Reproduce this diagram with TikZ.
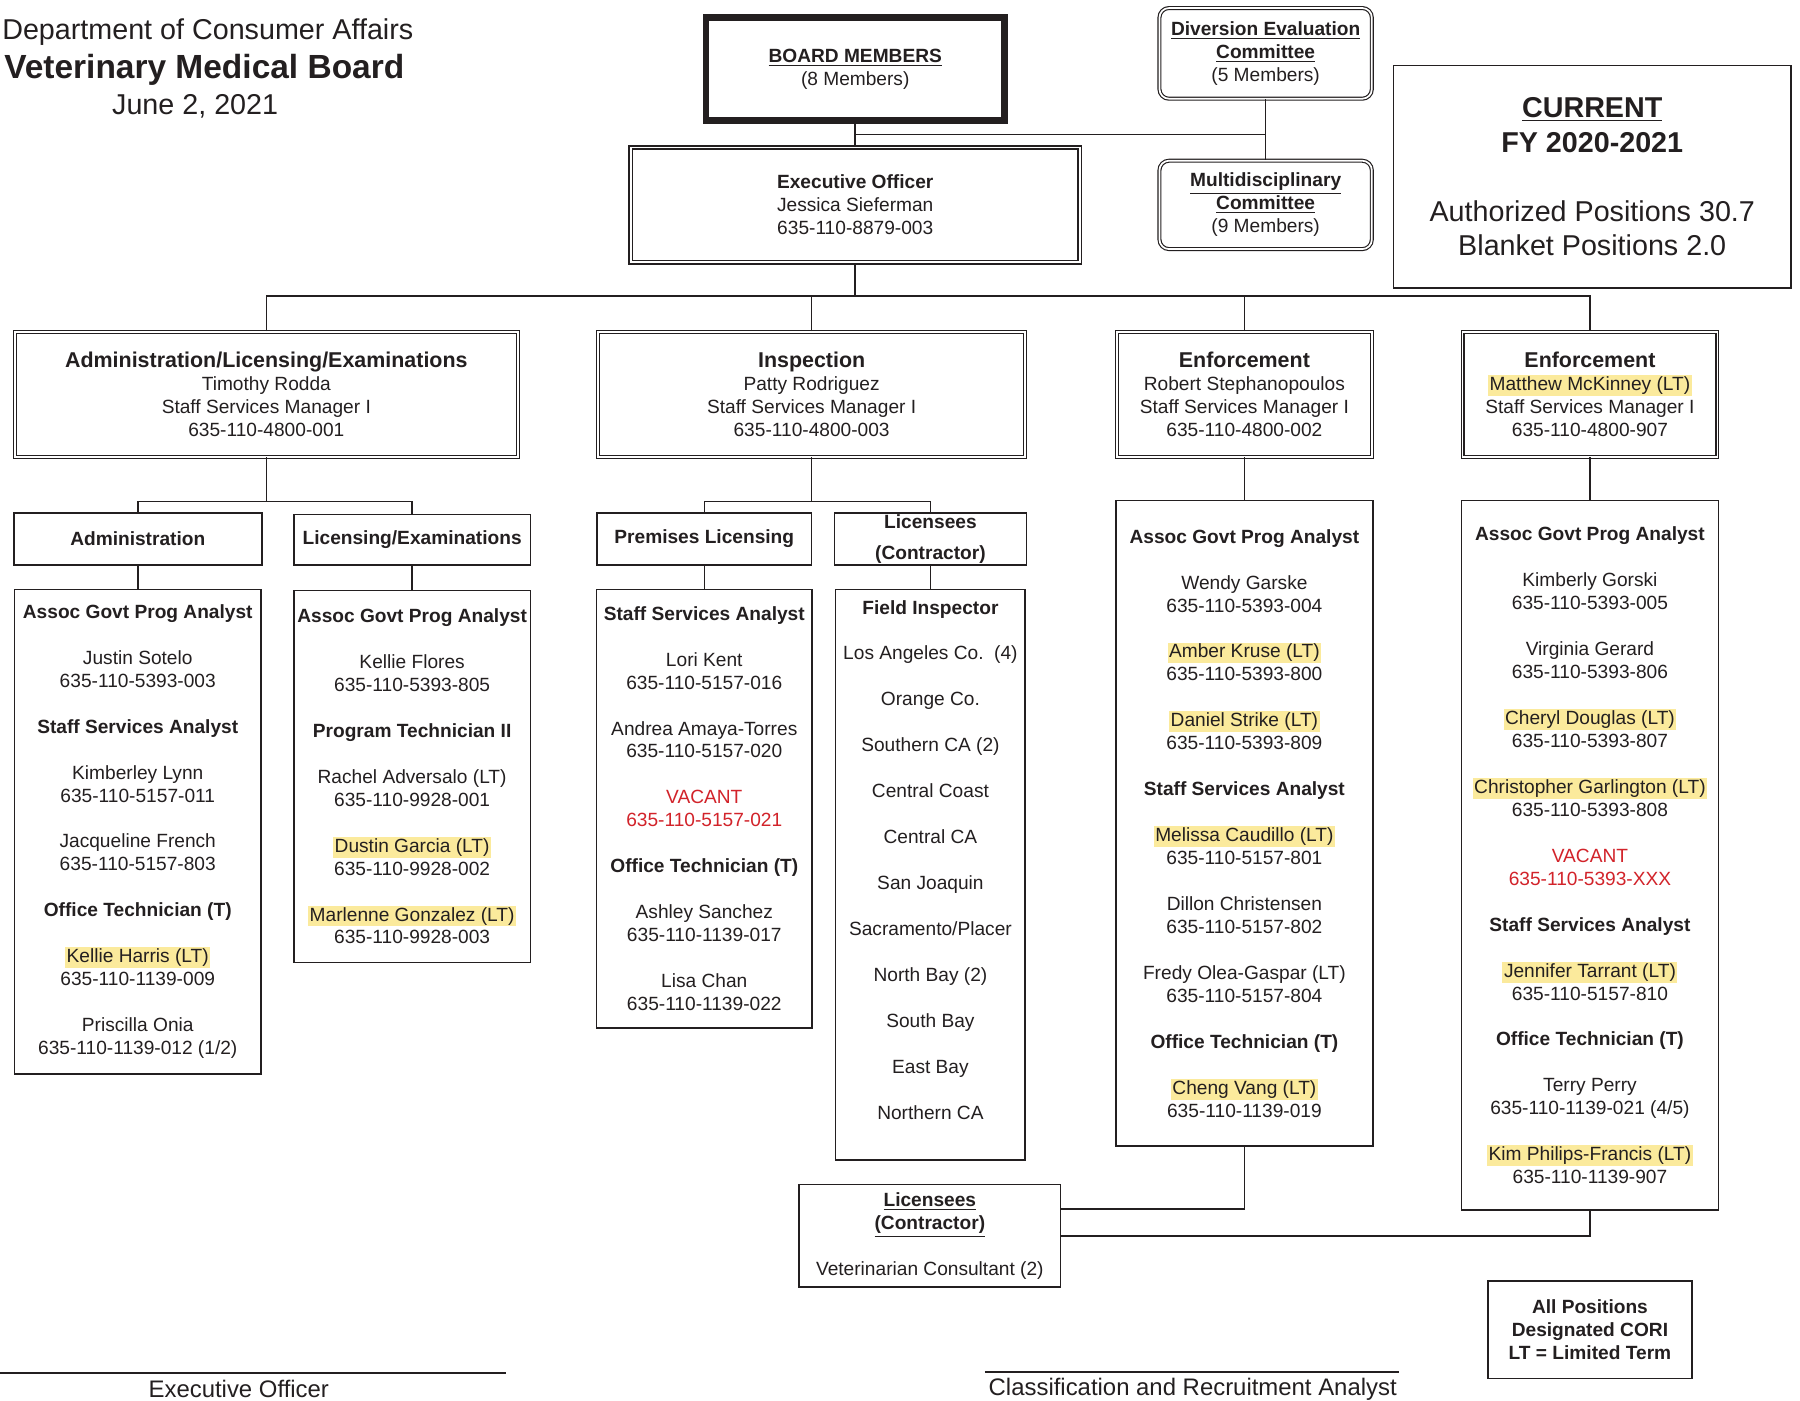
\documentclass[tikz,border=0pt]{standalone}
\usepackage{fontspec}
\setmainfont{Liberation Sans}
\usetikzlibrary{positioning}

\definecolor{ink}{HTML}{231F20}
\definecolor{hlyel}{HTML}{FBEA9C}
\definecolor{vacred}{HTML}{D2232A}
\newcommand{\hlname}[1]{{\setlength{\fboxsep}{0.8pt}\colorbox{hlyel}{#1}}}
\newcommand{\vac}[1]{\textcolor{vacred}{#1}}

\tikzset{
  box/.style={draw, line width=0.8pt},
  dbox/.style={draw, double, line width=0.6pt, double distance=0.9pt},
  sz/.style 2 args={minimum width=#1*0.6pt, minimum height=#2*0.6pt},
  big/.style={font=\fontsize{15}{18}\selectfont},
}

\begin{document}
\begin{tikzpicture}[x=0.6pt, y=-0.6pt, color=ink, line width=0.8pt,
  every node/.style={font=\fontsize{10}{12}\selectfont, align=center, inner sep=0pt}]
  \useasboundingbox[fill=white] (0,0) rectangle (1568,1220);

  % heading
  \node[big, anchor=base] (dca) at (181,34) {Department of Consumer Affairs};
  \node[font=\fontsize{17.5}{20}\selectfont\bfseries, anchor=base] (vmb) at (178,68) {Veterinary Medical Board};
  \node[big, anchor=base] (date) at (170,100) {June 2, 2021};

  % board and executive officer
  \node[draw, line width=3.6pt, sz={260}{90}] (bm) at (745,60)
    {\underline{\textbf{BOARD MEMBERS}}\\ (8 Members)};
  \node[dbox, line width=0.9pt, sz={391}{100}] (eo) at (745,178.5)
    {\textbf{Executive Officer}\\ Jessica Sieferman\\ 635-110-8879-003};

  \node[dbox, rounded corners=5pt, sz={185}{79}] (dec) at (1102.5,46.5)
    {\underline{\textbf{Diversion Evaluation}}\\ \underline{\textbf{Committee}}\\ (5 Members)};
  \node[dbox, rounded corners=5pt, sz={185}{77}] (mdc) at (1102.5,178.5)
    {\underline{\textbf{Multidisciplinary}}\\ \underline{\textbf{Committee}}\\ (9 Members)};

  \node[box, big, sz={346}{194}] (cur) at (1387,154)
    {\underline{\textbf{CURRENT}}\\ \textbf{FY 2020-2021}\\[18pt] Authorized Positions 30.7\\ Blanket Positions 2.0};

  % units
  \node[dbox, sz={438}{109}] (alx) at (232,343.5)
    {\textbf{\fontsize{11.2}{13}\selectfont Administration/Licensing/Examinations}\\ Timothy Rodda\\ Staff Services Manager I\\ 635-110-4800-001};
  \node[dbox, sz={372}{109}] (ins) at (707,343.5)
    {\textbf{\fontsize{11.2}{13}\selectfont Inspection}\\ Patty Rodriguez\\ Staff Services Manager I\\ 635-110-4800-003};
  \node[dbox, sz={222}{109}] (enfa) at (1084,343.5)
    {\textbf{\fontsize{11.2}{13}\selectfont Enforcement}\\ Robert Stephanopoulos\\ Staff Services Manager I\\ 635-110-4800-002};
  \node[dbox, sz={222}{109}] (enfb) at (1385,343.5)
    {\textbf{\fontsize{11.2}{13}\selectfont Enforcement}\\ \hlname{Matthew McKinney (LT)}\\ Staff Services Manager I\\ 635-110-4800-907};

  % sections
  \node[box, sz={216}{45}] (adm) at (120,469.5) {\textbf{Administration}};
  \node[box, sz={206}{44}] (lic) at (359,470) {\textbf{Licensing/Examinations}};
  \node[box, sz={187}{45}] (pre) at (613.5,469.5) {\textbf{Premises Licensing}};
  \node[box, sz={167}{45}] (lcs) at (810.5,469.5) {\textbf{Licensees}\\[4pt] \textbf{(Contractor)}};

  % staff lists
  \node[box, sz={215}{422}, below=12pt of adm] (admL)
    {\textbf{Assoc Govt Prog Analyst}\\[12pt]
     Justin Sotelo\\ 635-110-5393-003\\[12pt]
     \textbf{Staff Services Analyst}\\[12pt]
     Kimberley Lynn\\ 635-110-5157-011\\[12pt]
     Jacqueline French\\ 635-110-5157-803\\[12pt]
     \textbf{Office Technician (T)}\\[12pt]
     \hlname{Kellie Harris (LT)}\\ 635-110-1139-009\\[12pt]
     Priscilla Onia\\ 635-110-1139-012 (1/2)};
  \node[box, sz={206}{324}, below=12.6pt of lic] (licL)
    {\textbf{Assoc Govt Prog Analyst}\\[12pt]
     Kellie Flores\\ 635-110-5393-805\\[12pt]
     \textbf{Program Technician II}\\[12pt]
     Rachel Adversalo (LT)\\ 635-110-9928-001\\[12pt]
     \hlname{Dustin Garcia (LT)}\\ 635-110-9928-002\\[12pt]
     \hlname{Marlenne Gonzalez (LT)}\\ 635-110-9928-003};
  \node[box, sz={188}{382}, below=12pt of pre] (preL)
    {\textbf{Staff Services Analyst}\\[12pt]
     Lori Kent\\ 635-110-5157-016\\[12pt]
     Andrea Amaya-Torres\\ 635-110-5157-020\\[12pt]
     \vac{VACANT}\\ \vac{635-110-5157-021}\\[12pt]
     \textbf{Office Technician (T)}\\[12pt]
     Ashley Sanchez\\ 635-110-1139-017\\[12pt]
     Lisa Chan\\ 635-110-1139-022};
  \node[box, sz={165}{497}, below=12pt of lcs] (fldL)
    {\textbf{Field Inspector}\\[12pt]
     Los Angeles Co.\ \ (4)\\[12pt]
     Orange Co.\\[12pt]
     Southern CA (2)\\[12pt]
     Central Coast\\[12pt]
     Central CA\\[12pt]
     San Joaquin\\[12pt]
     Sacramento/Placer\\[12pt]
     North Bay (2)\\[12pt]
     South Bay\\[12pt]
     East Bay\\[12pt]
     Northern CA\\ \strut};
  \node[box, sz={224}{562}, below=22.2pt of enfa] (enfaL)
    {\textbf{Assoc Govt Prog Analyst}\\[12pt]
     Wendy Garske\\ 635-110-5393-004\\[12pt]
     \hlname{Amber Kruse (LT)}\\ 635-110-5393-800\\[12pt]
     \hlname{Daniel Strike (LT)}\\ 635-110-5393-809\\[12pt]
     \textbf{Staff Services Analyst}\\[12pt]
     \hlname{Melissa Caudillo (LT)}\\ 635-110-5157-801\\[12pt]
     Dillon Christensen\\ 635-110-5157-802\\[12pt]
     Fredy Olea-Gaspar (LT)\\ 635-110-5157-804\\[12pt]
     \textbf{Office Technician (T)}\\[12pt]
     \hlname{Cheng Vang (LT)}\\ 635-110-1139-019};
  \node[box, sz={224}{618}, below=22.2pt of enfb] (enfbL)
    {\textbf{Assoc Govt Prog Analyst}\\[12pt]
     Kimberly Gorski\\ 635-110-5393-005\\[12pt]
     Virginia Gerard\\ 635-110-5393-806\\[12pt]
     \hlname{Cheryl Douglas (LT)}\\ 635-110-5393-807\\[12pt]
     \hlname{Christopher Garlington (LT)}\\ 635-110-5393-808\\[12pt]
     \vac{VACANT}\\ \vac{635-110-5393-XXX}\\[12pt]
     \textbf{Staff Services Analyst}\\[12pt]
     \hlname{Jennifer Tarrant (LT)}\\ 635-110-5157-810\\[12pt]
     \textbf{Office Technician (T)}\\[12pt]
     Terry Perry\\ 635-110-1139-021 (4/5)\\[12pt]
     \hlname{Kim Philips-Francis (LT)}\\ 635-110-1139-907};

  \node[box, sz={228}{89}] (con) at (810,1076.5)
    {\underline{\textbf{Licensees}}\\ \underline{\textbf{(Contractor)}}\\[12pt] Veterinarian Consultant (2)};
  \node[box, sz={178}{85}] (allp) at (1385,1158.5)
    {\textbf{All Positions}\\ \textbf{Designated CORI}\\ \textbf{LT = Limited Term}};

  % signatures
  \node[font=\fontsize{12.5}{15}\selectfont] (eosig) at (208,1210) {Executive Officer};
  \node[font=\fontsize{12.5}{15}\selectfont] (crsig) at (1039,1210) {Classification and Recruitment Analyst};
  \draw (0,1196) -- (441,1196);
  \draw (858,1195) -- (1219,1195);

  % connectors
  \coordinate (cj) at (745,117);
  \coordinate (bus) at (745,258);
  \coordinate (sb1) at (232,437);
  \coordinate (sb2) at (707,437);

  \draw (bm) -- (eo);
  \draw (cj) -- (cj -| dec.south);
  \draw (dec) -- (mdc);
  \draw (eo) -- (bus);
  \draw (alx) |- (bus) -| (enfb);
  \draw (ins) -- (ins |- bus);
  \draw (enfa) -- (enfa |- bus);

  \draw (alx) -- (sb1);
  \draw (adm) |- (sb1) -| (lic);
  \draw (ins) -- (sb2);
  \draw (pre) |- (sb2) -| (lcs);

  \draw (adm) -- (admL);
  \draw (lic) -- (licL);
  \draw (pre) -- (preL);
  \draw (lcs) -- (fldL);
  \draw (enfa) -- (enfaL);
  \draw (enfb) -- (enfbL);

  \draw (enfaL) |- ([yshift=14pt]con.east);
  \draw (enfbL) |- (con);
\end{tikzpicture}
\end{document}
